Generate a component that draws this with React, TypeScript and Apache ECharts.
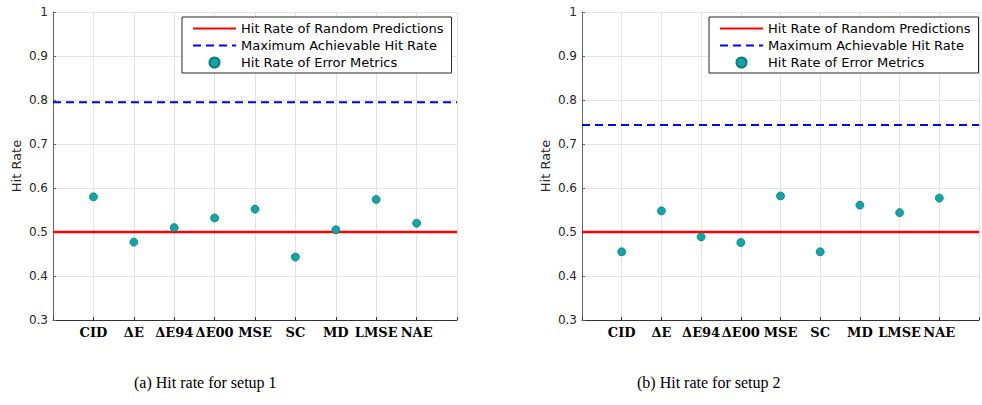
import React, { useEffect, useRef } from "react";
import * as echarts from "echarts";

// Error metrics compared on the x axis
const METRICS = ["CID", "ΔE", "ΔE94", "ΔE00", "MSE", "SC", "MD", "LMSE", "NAE"];
// Hit rate of each error metric
const SETUP1_HIT = [0.58, 0.477, 0.51, 0.532, 0.552, 0.443, 0.505, 0.574, 0.52];
const SETUP2_HIT = [0.455, 0.548, 0.489, 0.476, 0.582, 0.455, 0.561, 0.544, 0.577];
// Reference levels
const RANDOM_RATE = 0.5;
const MAX_RATE_SETUP1 = 0.795;
const MAX_RATE_SETUP2 = 0.743;
// Axis extents
const Y_MIN = 0.3;
const Y_MAX = 1;
const Y_STEP = 0.1;
const X_MIN = 0;
const X_MAX = 10;

const CAPTIONS = ["(a) Hit rate for setup 1", "(b) Hit rate for setup 2"];

const NAME_RANDOM = "Hit Rate of Random Predictions";
const NAME_MAX = "Maximum Achievable Hit Rate";
const NAME_METRIC = "Hit Rate of Error Metrics";

const SANS = "DejaVu Sans";
const SERIF = "Liberation Serif";
const LABEL_SERIF = "DejaVu Serif";
const AXIS_DARK = "#262626";
const GRID_LIGHT = "#e3e3e3";

function panel(i: number, values: number[], maxRate: number, left: number, legendLeft: number) {
  const grid = { left, top: 12, width: 404, height: 308, containLabel: false };
  const xAxis = {
    gridIndex: i,
    type: "value",
    min: X_MIN,
    max: X_MAX,
    interval: 1,
    axisLine: { show: true, lineStyle: { color: "#333", width: 1 } },
    axisTick: { show: true, inside: true, length: 3, lineStyle: { color: "#333" } },
    splitLine: { show: true, lineStyle: { color: GRID_LIGHT, width: 1 } },
    axisLabel: {
      margin: 6,
      color: "#000",
      fontFamily: LABEL_SERIF,
      fontWeight: "bold",
      fontSize: 13,
      showMinLabel: true,
      showMaxLabel: true,
      formatter: (v: number) => METRICS[Math.round(v) - 1] ?? "",
    },
  };
  const yAxis = {
    gridIndex: i,
    type: "value",
    min: Y_MIN,
    max: Y_MAX,
    interval: Y_STEP,
    name: "Hit Rate",
    nameLocation: "middle",
    nameGap: 30,
    nameTextStyle: { fontFamily: SANS, fontSize: 13, color: AXIS_DARK },
    axisLine: { show: true, lineStyle: { color: "#666", width: 1 } },
    axisTick: { show: true, inside: true, length: 3, lineStyle: { color: "#666" } },
    splitLine: { show: true, lineStyle: { color: GRID_LIGHT, width: 1 } },
    axisLabel: {
      margin: 5,
      color: AXIS_DARK,
      fontFamily: SANS,
      fontSize: 12,
      formatter: (v: number) => String(Math.round(v * 10) / 10),
    },
  };
  const series = [
    {
      name: NAME_RANDOM,
      type: "line",
      xAxisIndex: i,
      yAxisIndex: i,
      symbol: "none",
      data: [
        [X_MIN, RANDOM_RATE],
        [X_MAX, RANDOM_RATE],
      ],
      lineStyle: { color: "#ff0000", width: 2.6 },
      itemStyle: { color: "#ff0000" },
      z: 3,
    },
    {
      name: NAME_MAX,
      type: "line",
      xAxisIndex: i,
      yAxisIndex: i,
      symbol: "none",
      data: [
        [X_MIN, maxRate],
        [X_MAX, maxRate],
      ],
      lineStyle: { color: "#0000ff", width: 2, type: [8, 5] },
      itemStyle: { color: "#0000ff" },
      z: 3,
    },
    {
      name: NAME_METRIC,
      type: "scatter",
      xAxisIndex: i,
      yAxisIndex: i,
      symbol: "circle",
      symbolSize: 8,
      data: values.map((v, k) => [k + 1, v]),
      itemStyle: { color: "#10a6a6", borderColor: "#0a7c7c", borderWidth: 0.8, opacity: 1 },
      z: 4,
    },
  ];
  const legend = {
    show: true,
    orient: "vertical",
    left: legendLeft,
    top: 17,
    data: [
      { name: NAME_RANDOM, itemStyle: { opacity: 0 } },
      { name: NAME_MAX, itemStyle: { opacity: 0 } },
      { name: NAME_METRIC },
    ],
    itemWidth: 43,
    itemHeight: 10,
    itemGap: 4,
    padding: [5, 8, 4, 10],
    backgroundColor: "#ffffff",
    borderColor: AXIS_DARK,
    borderWidth: 1,
    borderRadius: 0,
    selectedMode: false,
    textStyle: { fontFamily: SANS, fontSize: 13, color: "#000", lineHeight: 13 },
    z: 10,
  };
  return { grid, xAxis, yAxis, series, legend };
}

export default function App() {
  const ref = useRef<HTMLDivElement>(null);

  useEffect(() => {
    if (!ref.current) return;
    const chart = echarts.init(ref.current, undefined, { renderer: "svg" });
    const p1 = panel(0, SETUP1_HIT, MAX_RATE_SETUP1, 53, 182);
    const p2 = panel(1, SETUP2_HIT, MAX_RATE_SETUP2, 582, 709);
    chart.setOption({
      animation: false,
      backgroundColor: "#ffffff",
      grid: [p1.grid, p2.grid],
      xAxis: [p1.xAxis, p2.xAxis],
      yAxis: [p1.yAxis, p2.yAxis],
      legend: [p1.legend, p2.legend],
      series: [...p1.series, ...p2.series],
      graphic: [
        {
          type: "text",
          left: 134,
          top: 374,
          style: { text: CAPTIONS[0], font: `16px "${SERIF}"`, fill: "#000" },
        },
        {
          type: "text",
          left: 637,
          top: 374,
          style: { text: CAPTIONS[1], font: `16px "${SERIF}"`, fill: "#000" },
        },
      ],
    });
    return () => chart.dispose();
  }, []);

  return (
    <div
      ref={ref}
      style={{ position: "fixed", left: 0, top: 0, width: 982, height: 405, background: "#fff" }}
    />
  );
}
